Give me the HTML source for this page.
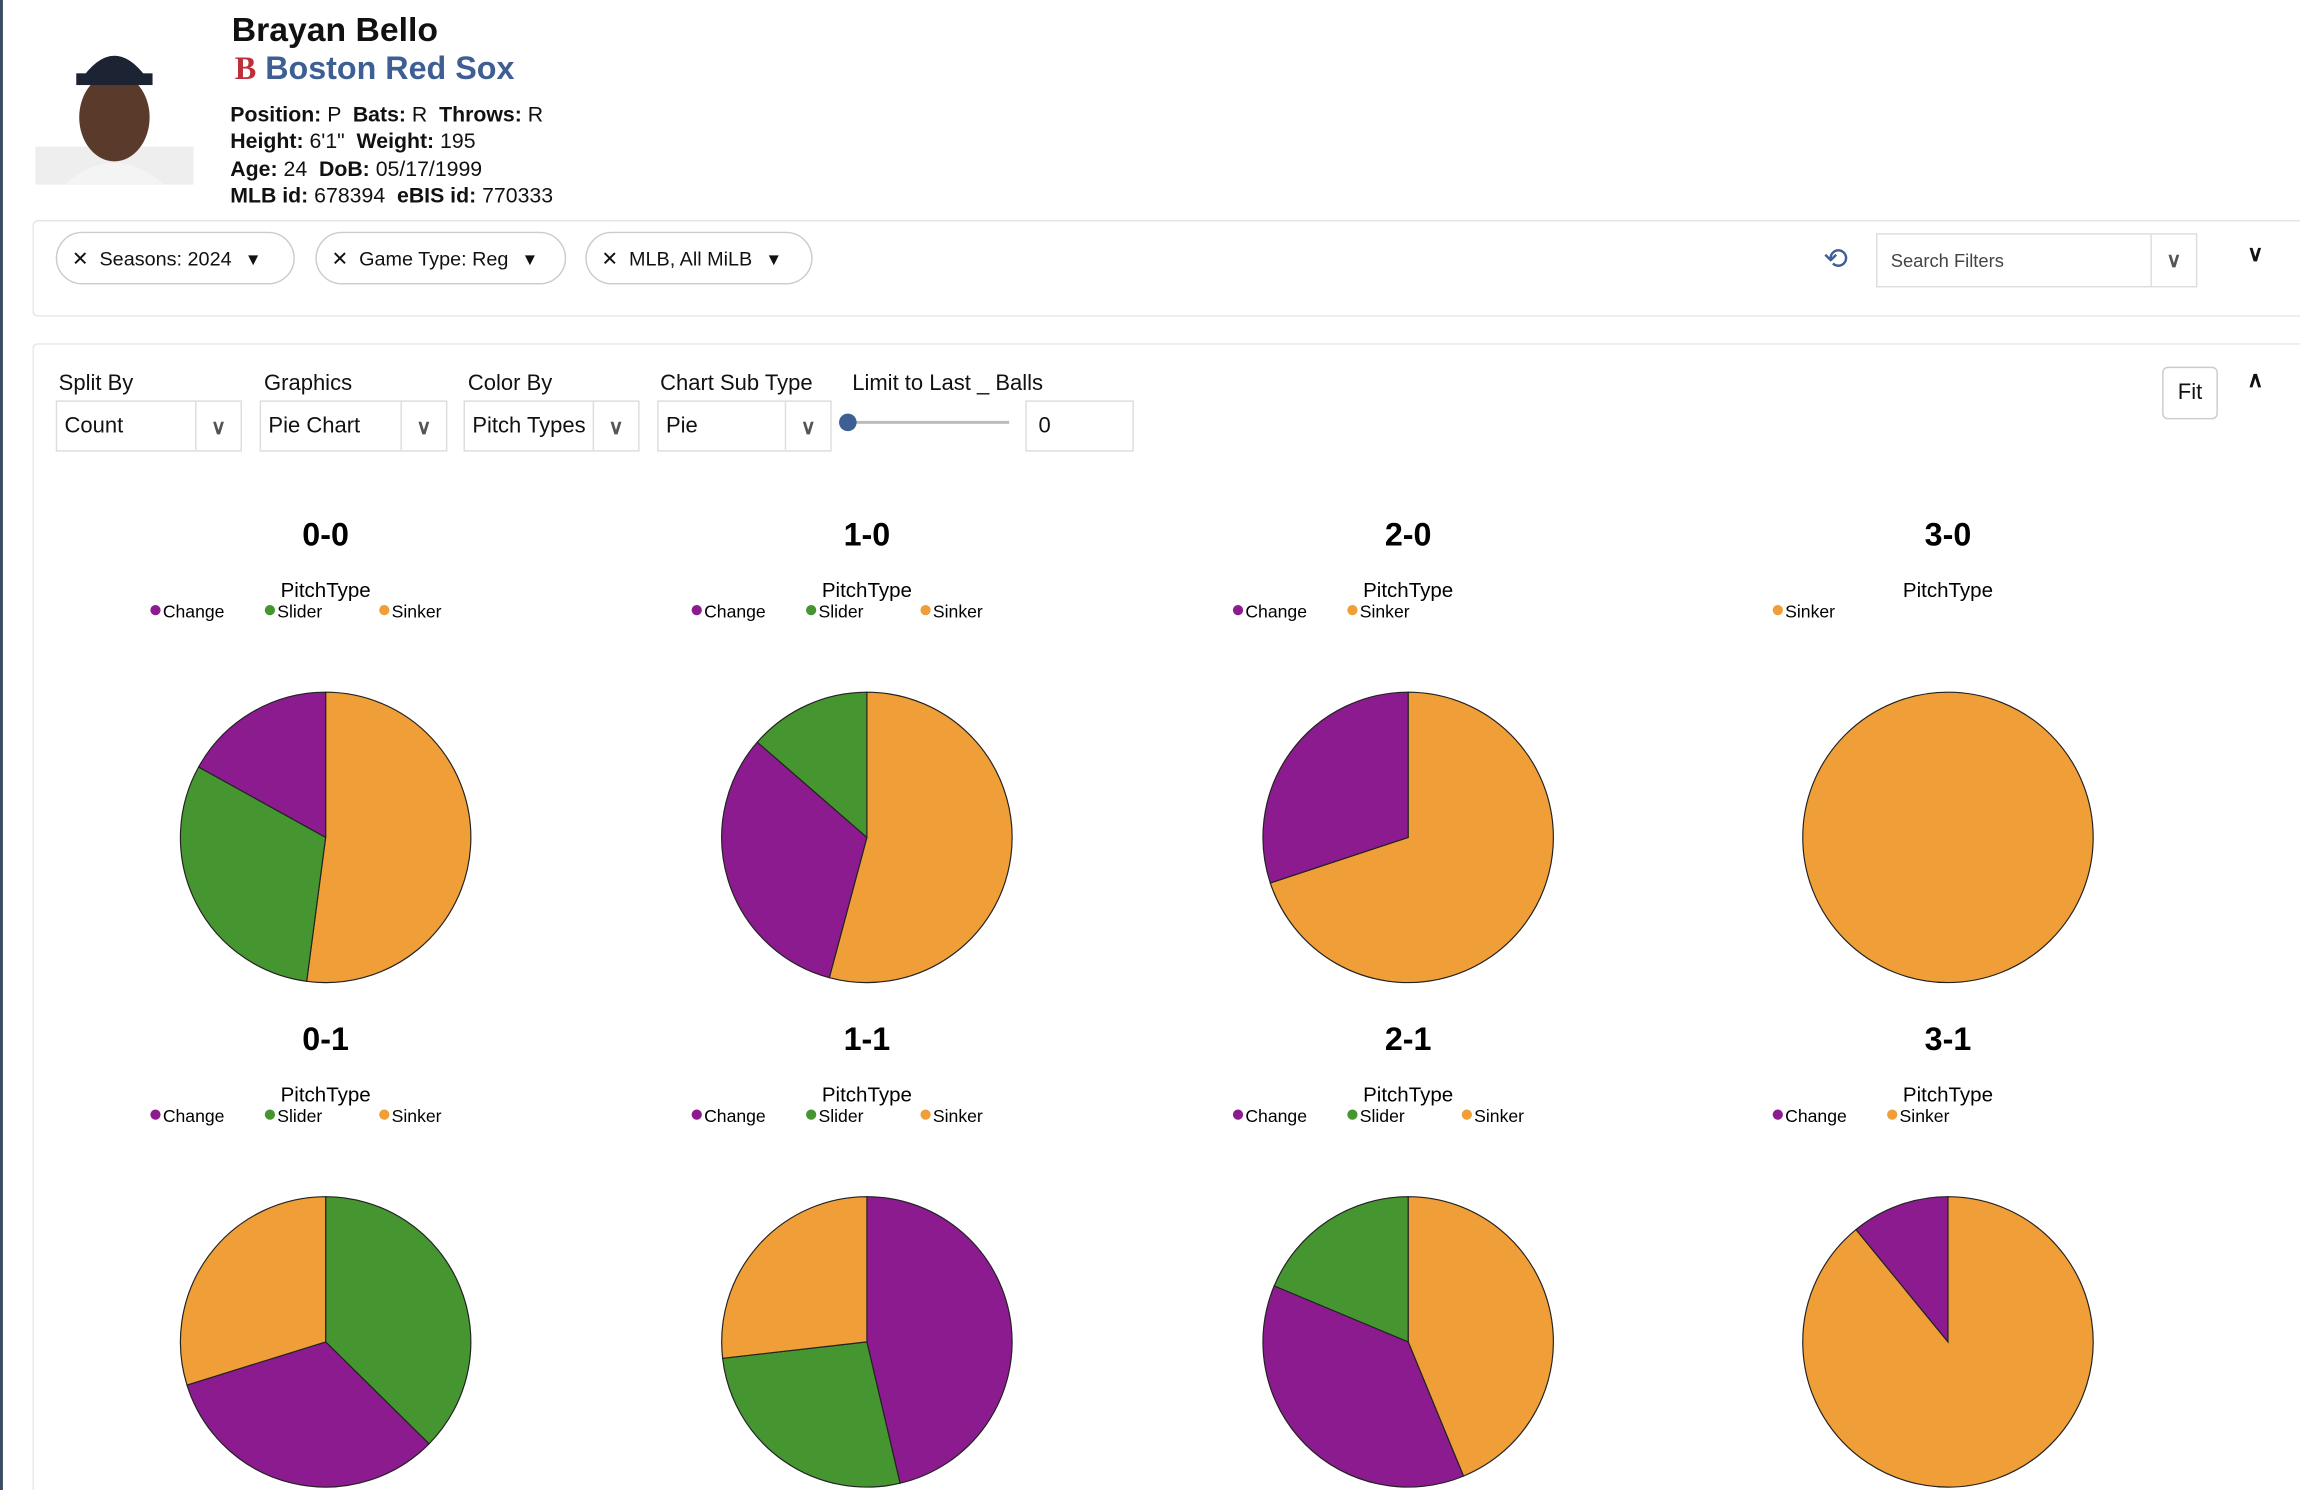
<!DOCTYPE html>
<html><head><meta charset="utf-8"><style>
html,body{margin:0;padding:0;background:#fff;width:2300px;height:1490px;overflow:hidden}
#w{position:absolute;left:0;top:0;width:1568px;height:1016px;overflow:hidden;transform:scale(1.46684,1.46654);transform-origin:0 0;font-family:"Liberation Sans",sans-serif;color:#111}
.a{position:absolute;white-space:nowrap}
.chip{position:absolute;top:158px;height:36px;border:1px solid #ccc;border-radius:19px;font-size:13.5px;line-height:36px;box-sizing:border-box;padding-left:10px}
.dd{position:absolute;top:273px;height:35px;border:1px solid #ddd;box-sizing:border-box;font-size:15px;line-height:34px;padding-left:5px}
.dd i{position:absolute;right:0;top:0;width:30px;height:33px;border-left:1px solid #ddd;font-style:normal;text-align:center;color:#555;font-size:14px;font-weight:bold}
.lb{position:absolute;top:253px;font-size:15px}
</style></head><body><div id="w">
<div class="a" style="left:0;top:0;width:2px;height:1016px;background:#3b4d63"></div>
<svg class="a" style="left:24px;top:20px" width="108" height="106"><rect x="0" y="80" width="108" height="26" fill="#eee"/><ellipse cx="54" cy="60" rx="24" ry="30" fill="#5a3a2a"/><path d="M30 36 Q54 0 78 36 Z" fill="#1c2333"/><rect x="28" y="30" width="52" height="8" fill="#1c2333"/><path d="M20 106 Q54 76 88 106 Z" fill="#f4f4f4"/></svg>
<div class="a" style="left:158px;top:7px;font-size:23px;font-weight:bold">Brayan Bello</div>
<div class="a" style="left:160px;top:34px;font-size:22px;font-weight:bold;color:#3e5f93"><span style="color:#bd3039;font-family:'Liberation Serif',serif">B</span> Boston Red Sox</div>
<div class="a" style="left:157px;top:70px;font-size:14.5px;line-height:18.3px"><b>Position:</b> P &nbsp;<b>Bats:</b> R &nbsp;<b>Throws:</b> R<br><b>Height:</b> 6'1" &nbsp;<b>Weight:</b> 195<br><b>Age:</b> 24 &nbsp;<b>DoB:</b> 05/17/1999<br><b>MLB id:</b> 678394 &nbsp;<b>eBIS id:</b> 770333</div>
<div class="a" style="left:22px;top:150px;width:1546px;height:66px;border:1px solid #e6e6e6;border-right:none;border-radius:4px 0 0 4px;box-sizing:border-box"></div>
<div class="chip" style="left:38px;width:163px">✕&nbsp;&nbsp;Seasons: 2024 &nbsp;&nbsp;▾</div>
<div class="chip" style="left:215px;width:171px">✕&nbsp;&nbsp;Game Type: Reg &nbsp;&nbsp;▾</div>
<div class="chip" style="left:399px;width:155px">✕&nbsp;&nbsp;MLB, All MiLB &nbsp;&nbsp;▾</div>
<div class="a" style="left:1243px;top:164px;font-size:20px;color:#3e5f93">⟲</div>
<div class="dd" style="left:1279px;top:159px;width:219px;height:37px;font-size:12.5px;line-height:36px;padding-left:9px;color:#444">Search Filters<i style="height:35px;line-height:35px">∨</i></div>
<div class="a" style="left:1532px;top:164px;font-size:15px;font-weight:bold">∨</div>
<div class="a" style="left:22px;top:234px;width:1546px;height:782px;border:1px solid #e6e6e6;border-right:none;border-bottom:none;border-radius:4px 0 0 0;box-sizing:border-box"></div>
<div class="lb" style="left:40px">Split By</div><div class="lb" style="left:180px">Graphics</div><div class="lb" style="left:319px">Color By</div><div class="lb" style="left:450px">Chart Sub Type</div><div class="lb" style="left:581px">Limit to Last _ Balls</div>
<div class="dd" style="left:38px;width:127px">Count<i>∨</i></div>
<div class="dd" style="left:177px;width:128px">Pie Chart<i>∨</i></div>
<div class="dd" style="left:316px;width:120px">Pitch Types<i>∨</i></div>
<div class="dd" style="left:448px;width:119px">Pie<i>∨</i></div>
<div class="a" style="left:578px;top:287px;width:110px;height:2px;background:#bbb"></div>
<div class="a" style="left:572px;top:282px;width:12px;height:12px;border-radius:6px;background:#3e5f93"></div>
<div class="dd" style="left:699px;width:74px;padding-left:8px">0</div>
<div class="a" style="left:1474px;top:250px;width:38px;height:36px;border:1px solid #ccc;border-radius:4px;box-sizing:border-box;text-align:center;line-height:34px;font-size:15px">Fit</div>
<div class="a" style="left:1532px;top:250px;font-size:15px;font-weight:bold">∧</div>
<svg class="a" style="left:0;top:0" width="1568" height="1016" font-family="Liberation Sans, sans-serif">
<g id="pies" stroke="#222" stroke-width="0.8"></g>
<g id="txt"></g>
</svg>
<script>
var O="#f09e38",G="#459530",P="#8c1b8f";
var charts=[
[222,"0-0",[[O,0,187.5],[G,187.5,299],[P,299,360]],["Change","Slider","Sinker"]],
[591,"1-0",[[O,0,195],[P,195,311],[G,311,360]],["Change","Slider","Sinker"]],
[960,"2-0",[[O,0,251.7],[P,251.7,360]],["Change","Sinker"]],
[1328,"3-0",[[O,0,360]],["Sinker"]],
[222,"0-1",[[G,0,134.6],[P,134.6,252.7],[O,252.7,360]],["Change","Slider","Sinker"]],
[591,"1-1",[[P,0,166.8],[G,166.8,263.5],[O,263.5,360]],["Change","Slider","Sinker"]],
[960,"2-1",[[O,0,157.6],[P,157.6,292.7],[G,292.7,360]],["Change","Slider","Sinker"]],
[1328,"3-1",[[O,0,320.7],[P,320.7,360]],["Change","Sinker"]]];
var col={Change:P,Slider:G,Sinker:O};
var ns="http://www.w3.org/2000/svg",pg=document.getElementById("pies"),tg=document.getElementById("txt");
function pt(cx,cy,r,a){a=a*Math.PI/180;return [cx+r*Math.sin(a),cy-r*Math.cos(a)];}
function el(t,at,p,txt){var e=document.createElementNS(ns,t);for(var k in at)e.setAttribute(k,at[k]);if(txt)e.textContent=txt;p.appendChild(e);return e;}
charts.forEach(function(c,i){
 var cx=c[0],row=i<4?0:1,cy=row?915:571,r=99,off=row?344:0;
 c[2].forEach(function(s){
  if(s[2]-s[1]>=360){el("circle",{cx:cx,cy:cy,r:r,fill:s[0]},pg);return;}
  var a=pt(cx,cy,r,s[1]),b=pt(cx,cy,r,s[2]),l=(s[2]-s[1])>180?1:0;
  el("path",{d:"M"+cx+","+cy+"L"+a[0]+","+a[1]+"A"+r+","+r+" 0 "+l+" 1 "+b[0]+","+b[1]+"Z",fill:s[0]},pg);
 });
 el("text",{x:cx,y:372+off,"text-anchor":"middle","font-size":22,"font-weight":"bold"},tg,c[1]);
 el("text",{x:cx,y:407+off,"text-anchor":"middle","font-size":14},tg,"PitchType");
 c[3].forEach(function(n,j){var x=cx-119+j*78;
  el("circle",{cx:x+3,cy:416+off,r:3.5,fill:col[n]},tg);
  el("text",{x:x+8,y:421+off,"font-size":12},tg,n);});
});
</script>
</div></body></html>
